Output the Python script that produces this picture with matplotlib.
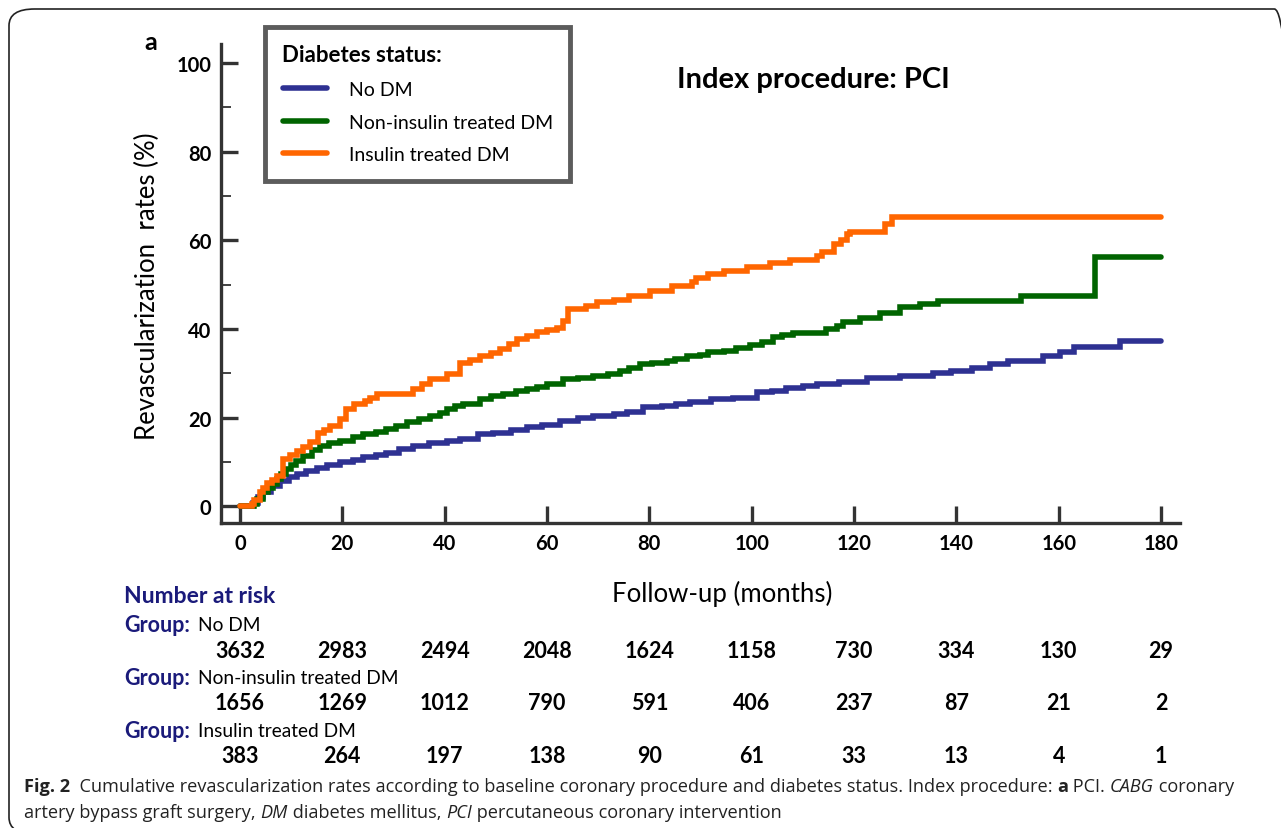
import matplotlib
matplotlib.use("Agg")
import matplotlib.pyplot as plt
from matplotlib import transforms
from matplotlib.patches import FancyBboxPatch
from matplotlib.ticker import MultipleLocator

plt.rcParams['font.family'] = ['Lato', 'DejaVu Sans']

# step curves: (month, cumulative %)
no_dm_t = [0, 2.5, 3.5, 4.6, 6, 7.8, 9.5, 11.1, 13, 15, 17, 19.5, 22, 24.1, 26.5, 28.6,
           31, 33.9, 37, 40.4, 43, 46.6, 49.5, 53, 56, 59, 62.5, 66, 69, 73, 75.6, 78.8,
           82.5, 85.3, 88, 92, 96.4, 101, 104, 106.8, 110, 112.7, 117, 122.5, 129, 135.4,
           139, 143, 146.5, 150, 157, 160.3, 163, 172, 180]
no_dm_v = [0, 0.8, 2, 3.1, 4.5, 5.7, 6.6, 7.2, 8, 8.7, 9.3, 9.9, 10.4, 11, 11.6, 12.1,
           12.8, 13.6, 14.2, 14.7, 15.1, 16.3, 16.6, 17.2, 17.8, 18.4, 19.3, 19.8, 20.4, 20.8, 21.2, 22.3,
           22.6, 23, 23.4, 24.2, 24.5, 25.7, 26.1, 26.6, 27.1, 27.5, 28.1, 29, 29.4, 30.1,
           30.5, 31.1, 32, 32.8, 34.0, 34.8, 35.9, 37.2, 37.2]

non_ins_t = [0, 2.8, 3.3, 4.5, 5.5, 6.5, 7.3, 8, 9, 10, 11, 12.4, 14, 15.6, 17.5, 19.5, 22, 24.1, 26.5,
             28.6, 30.5, 32.6, 35, 37.1, 39, 40.4, 42, 43.6, 46.9, 49, 51.5, 54, 56, 58, 60,
             63.2, 66, 69, 72, 74.3, 76, 78.2, 80.5, 83.4, 85, 87.3, 89.9, 91.5, 94.5, 97,
             99.7, 102, 104.2, 106, 108.1, 114.6, 116.6, 117.9, 121.1, 125, 129, 132.9, 136.5,
             152.7, 167, 180]
non_ins_v = [0, 0.5, 1.6, 3.2, 4.2, 5, 6.2, 7.3, 8.3, 9.3, 10.2, 11.4, 12.6, 13.6, 14.2, 14.7, 15.5, 16.3, 16.8,
             17.4, 18.1, 18.9, 19.6, 20.4, 21.1, 21.9, 22.5, 23, 24.2, 24.8, 25.3, 25.9, 26.4, 27, 27.5,
             28.7, 29, 29.4, 29.9, 30.5, 31.2, 32, 32.2, 32.8, 33.3, 33.9, 34.1, 34.7, 35.1, 35.7,
             36.3, 37.1, 38.1, 38.6, 39.1, 40.0, 40.7, 41.5, 42.4, 43.6, 44.9, 45.6, 46.2,
             47.5, 56.3, 56.3]

ins_t = [0, 2.4, 2.8, 3.9, 4.6, 5.2, 6.2, 7.2, 8.5, 9.8, 11.1, 12.4, 13.7, 15.3, 16.5, 17.6,
         19.5, 20.8, 22.2, 24.4, 25.4, 26.7, 33.9, 35.5, 37.1, 40.4, 43, 45, 46.9, 49, 50.8,
         52.5, 54.1, 56, 58, 60, 61.9, 63.2, 64.2, 67.7, 69.7, 73, 76, 80.1, 84.5, 88.4, 89.2,
         91.5, 94.5, 99, 103.6, 107.5, 112.8, 113.7, 116, 117.5, 118.6, 119.2, 126, 127.5, 180]
ins_v = [0, 0.5, 1.5, 3.1, 4.2, 5.3, 6, 6.8, 10.6, 11.5, 12.5, 13.4, 14.4, 16.6, 17.2, 18.1,
         19.6, 21.9, 23, 23.8, 24.5, 25.3, 26.4, 27.5, 28.7, 29.8, 32.4, 33, 33.9, 34.6, 35.4,
         36.5, 37.7, 38.4, 39.2, 39.8, 40.3, 41.8, 44.5, 45.2, 46, 46.5, 47.5, 48.6, 49.7, 50.5, 51.6,
         52.4, 53.1, 53.9, 54.8, 55.6, 56.5, 57.3, 59.1, 60, 61.4, 61.9, 63.7, 65.2, 65.2]

groups = ['No DM', 'Non-insulin treated DM', 'Insulin treated DM']
colors = ['#2E3192', '#006400', '#FF6600']

# number at risk table
risk_months = [0, 20, 40, 60, 80, 100, 120, 140, 160, 180]
risk_no_dm = [3632, 2983, 2494, 2048, 1624, 1158, 730, 334, 130, 29]
risk_non_ins = [1656, 1269, 1012, 790, 591, 406, 237, 87, 21, 2]
risk_ins = [383, 264, 197, 138, 90, 61, 33, 13, 4, 1]

W, H = 1281, 829
fig = plt.figure(figsize=(W / 100, H / 100), dpi=100)


def fx(px):
    return px / W


def fy(py):
    return 1 - py / H


ax = fig.add_axes([fx(221), fy(524), fx(1180) - fx(221), fy(45) - fy(524)])

curves = [(no_dm_t, no_dm_v), (non_ins_t, non_ins_v), (ins_t, ins_v)]
for (t, v), name, c in zip(curves, groups, colors):
    ax.step(t, v, where='post', color=c, lw=4, solid_capstyle='round',
            solid_joinstyle='miter', label=name)

ax.set_xlim(-3.7, 183.7)
ax.set_ylim(-3.8, 104.3)
ax.xaxis.set_major_locator(MultipleLocator(20))
ax.yaxis.set_major_locator(MultipleLocator(20))
ax.yaxis.set_minor_locator(MultipleLocator(10))
for s in ['top', 'right']:
    ax.spines[s].set_visible(False)
for s in ['left', 'bottom']:
    ax.spines[s].set_linewidth(2.4)
    ax.spines[s].set_color('#333333')
ax.tick_params(axis='both', which='major', direction='in', length=12, width=2.4,
               color='#333333', labelsize=14.5, pad=7)
ax.tick_params(axis='y', which='minor', direction='in', length=7, width=1.3, color='#333333')
ax.tick_params(axis='x', which='minor', length=0)
for lab in ax.get_xticklabels() + ax.get_yticklabels():
    lab.set_fontweight('bold')

leg = ax.legend(loc='upper left', bbox_to_anchor=(fx(265), fy(28)),
                bbox_transform=fig.transFigure, title='Diabetes status:',
                fontsize=14, title_fontproperties={'weight': 'bold', 'size': 16},
                alignment='left', fancybox=False, handlelength=2.3,
                handletextpad=1.1, labelspacing=0.8, borderpad=0.9,
                borderaxespad=0)
leg.get_frame().set_edgecolor('#333333')
leg.get_frame().set_linewidth(3.5)

fig.text(fx(813), fy(80), 'Index procedure: PCI', fontsize=21, fontweight='bold',
         ha='center', va='center')
fig.text(fx(151), fy(42), 'a', fontsize=18, fontweight='bold', ha='center', va='center')
fig.text(fx(147), fy(286), 'Revascularization  rates (%)', fontsize=18.5, rotation=90,
         ha='center', va='center')
fig.text(fx(722), fy(594), 'Follow-up (months)', fontsize=18.5, ha='center', va='center')

# number at risk
navy = '#1A1A7A'
tr = transforms.blended_transform_factory(ax.transData, fig.transFigure)
fig.text(fx(124), fy(597), 'Number at risk', fontsize=16.5, fontweight='bold', color=navy,
         va='center')
row_y = [626, 679, 732]
for name, counts, ry in zip(groups, [risk_no_dm, risk_non_ins, risk_ins], row_y):
    fig.text(fx(124), fy(ry), 'Group:', fontsize=15.5, fontweight='bold', color=navy,
             va='center')
    fig.text(fx(198), fy(ry), name, fontsize=13.8, va='center')
    for m, n in zip(risk_months, counts):
        fig.text(m, fy(ry + 25), str(n), transform=tr, fontsize=15.5, fontweight='bold',
                 ha='center', va='center')

# caption with mixed styles
fig.canvas.draw()
renderer = fig.canvas.get_renderer()


def caption_line(parts, x0, y0, size=13.1):
    x = x0
    for txt, style in parts:
        kw = {}
        if style == 'b':
            kw['fontweight'] = 'bold'
        elif style == 'i':
            kw['fontstyle'] = 'italic'
        t = fig.text(fx(x), fy(y0), txt, fontsize=size, va='center', color='#222222',
                     family=['Open Sans', 'DejaVu Sans'], **kw)
        bb = t.get_window_extent(renderer)
        x += bb.width


caption_line([('Fig. 2', 'b'),
              ('  Cumulative revascularization rates according to baseline coronary procedure '
               'and diabetes status. Index procedure: ', 'n'),
              ('a', 'b'), (' PCI. ', 'n'), ('CABG', 'i'), (' coronary', 'n')], 24, 787)
caption_line([('artery bypass graft surgery, ', 'n'), ('DM', 'i'),
              (' diabetes mellitus, ', 'n'), ('PCI', 'i'),
              (' percutaneous coronary intervention', 'n')], 24, 813)

frame = FancyBboxPatch((fx(9), fy(835)), fx(1300) - fx(9), fy(10) - fy(835),
                       boxstyle='round,pad=0,rounding_size=0.02', transform=fig.transFigure,
                       fill=False, edgecolor='#222222', lw=1.2, clip_on=False)
fig.patches.append(frame)

fig.savefig('out.png', dpi=100)
